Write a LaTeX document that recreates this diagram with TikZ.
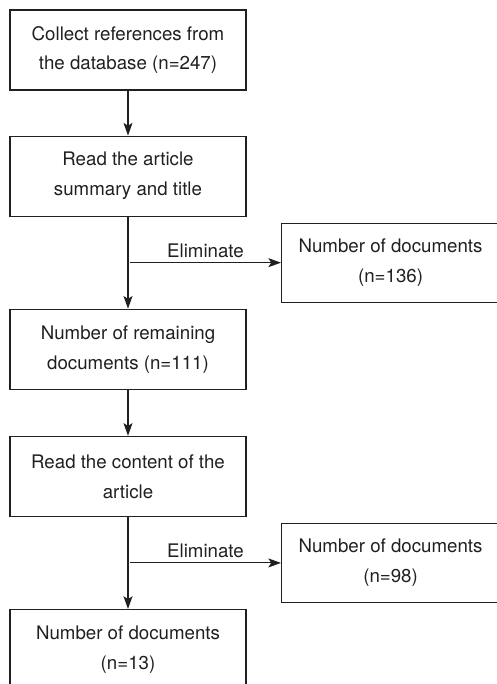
\documentclass[tikz,border=0pt]{standalone}
\usepackage{fontspec}
\setmainfont{TeX Gyre Heros}
\usetikzlibrary{positioning, arrows.meta, calc}
\definecolor{ink}{HTML}{231F20}

\tikzset{
    box/.style={draw=ink, line width=0.8pt, text=ink, align=center,
        minimum width=5.9cm, minimum height=2cm, inner sep=0pt,
        font=\fontsize{13.3}{21.3}\selectfont},
    sidebox/.style={box, minimum width=5.45cm, minimum height=1.975cm},
    link/.style={draw=ink, line width=0.8pt, -{Stealth[length=9pt, width=6.4pt, inset=2pt]}}
}

\begin{document}
\begin{tikzpicture}
    \useasboundingbox (0,0) rectangle (12.4,17.1);
    \node[box] (collect) at (3.2,15.85) {Collect references from\\the database (n=247)};
    \node[box, below=1.125cm of collect] (read1) {Read the article\\summary and title};
    \node[box, below=2.3cm of read1] (remain) {Number of remaining\\documents (n=111)};
    \node[box, below=1.15cm of remain] (read2) {Read the content of the\\article};
    \node[box, below=2.3cm of read2] (final) {Number of documents\\(n=13)};

    \coordinate (split1) at ($(read1.south)!0.5!(remain.north)$);
    \coordinate (split2) at ($(read2.south)!0.5!(final.north)$);
    \node[sidebox, right=3.825cm of split1, anchor=west] (out1) {Number of documents\\(n=136)};
    \node[sidebox, right=3.825cm of split2, anchor=west] (out2) {Number of documents\\(n=98)};

    \draw[link] (collect) -- (read1);
    \draw[link] (read1) -- (remain);
    \draw[link] (remain) -- (read2);
    \draw[link] (read2) -- (final);
    \draw[link] ([xshift=0.05cm]split1) -- node[above, text=ink, font=\fontsize{13.3}{16}\selectfont, inner sep=3pt]{Eliminate} (out1);
    \draw[link] ([xshift=0.05cm]split2) -- node[above, text=ink, font=\fontsize{13.3}{16}\selectfont, inner sep=3pt]{Eliminate} (out2);
\end{tikzpicture}
\end{document}
